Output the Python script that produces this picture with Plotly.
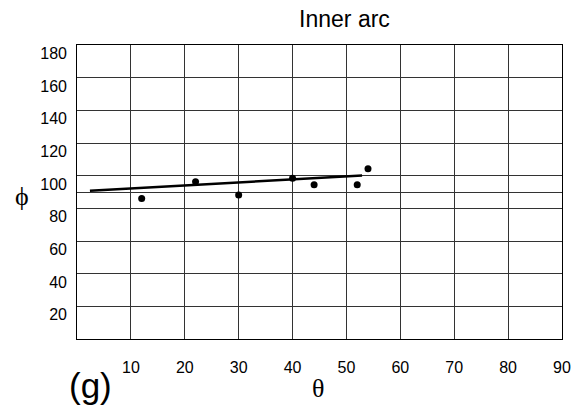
import plotly.graph_objects as go

# Data
theta_pts = [12, 22, 30, 40, 44, 52, 54]
phi_pts = [86.0, 96.2, 88.2, 98.4, 94.4, 94.4, 104.2]
fit_theta = [2.4, 52.9]
fit_phi = [90.7, 100.1]

x_ticks = [10, 20, 30, 40, 50, 60, 70, 80, 90]
x_grid = [10, 20, 30, 40, 50, 60, 70, 80]
y_ticks = [20, 40, 60, 80, 100, 120, 140, 160, 180]
y_grid = [20, 40, 60, 80, 90, 100, 120, 140, 160]

W, H = 573, 409
L, R, T, B = 77, 11, 44.5, 70
PW, PH = W - L - R, H - T - B


def px(xp):
    return (xp - L) / PW


def py(yp):
    return (H - B - yp) / PH


fig = go.Figure()
fig.add_trace(go.Scatter(x=fit_theta, y=fit_phi, mode="lines",
                         line=dict(color="black", width=2.5), showlegend=False))
fig.add_trace(go.Scatter(x=theta_pts, y=phi_pts, mode="markers",
                         marker=dict(color="black", size=7), showlegend=False))
fig.add_trace(go.Scatter(x=[None], y=[None], yaxis="y2", showlegend=False))
fig.add_trace(go.Scatter(x=[None], y=[None], xaxis="x2", showlegend=False))

gridc = "#333333"
fig.update_layout(
    width=W, height=H,
    margin=dict(l=L, r=R, t=T, b=B, autoexpand=False),
    paper_bgcolor="white", plot_bgcolor="white",
    font=dict(family="Liberation Sans, Arial, sans-serif", color="black", size=16),
    title=dict(text="Inner arc", font=dict(size=23, color="black"),
               x=316 / W, xanchor="center", xref="paper",
               y=1 - 19 / H, yanchor="middle", yref="container"),
    xaxis=dict(range=[0, 90], tickvals=x_grid, showticklabels=False,
               showgrid=True, gridcolor=gridc, gridwidth=1, zeroline=False,
               showline=True, linecolor="black", linewidth=1.2, mirror=True,
               ticks="", automargin=False),
    xaxis2=dict(range=[0, 90], overlaying="x", anchor="y", side="bottom",
                tickvals=x_ticks, ticktext=[str(v) for v in x_ticks],
                showgrid=False, zeroline=False, showline=False,
                ticklabelstandoff=17, tickfont=dict(size=16), automargin=False),
    yaxis=dict(range=[0, 180], tickvals=y_grid, showticklabels=False,
               showgrid=True, gridcolor=gridc, gridwidth=1, zeroline=False,
               showline=True, linecolor="black", linewidth=1.2, mirror=True,
               ticks="", automargin=False),
    yaxis2=dict(range=[5.2, 185.2], overlaying="y", anchor="x", side="left",
                tickvals=y_ticks, ticktext=[str(v) for v in y_ticks],
                showgrid=False, zeroline=False, showline=False,
                ticklabelstandoff=9, tickfont=dict(size=16), automargin=False),
)

fig.add_annotation(text="\u03b8", xref="paper", yref="paper", x=px(318), y=py(389),
                   showarrow=False, xanchor="center", yanchor="middle",
                   font=dict(family="Liberation Serif, serif", size=26))
fig.add_annotation(text="\u03d5", xref="paper", yref="paper", x=px(21.7), y=py(196.7),
                   showarrow=False, xanchor="center", yanchor="middle",
                   font=dict(family="Liberation Serif, serif", size=26))
fig.add_annotation(text="(g)", xref="paper", yref="paper", x=px(90), y=py(386),
                   showarrow=False, xanchor="center", yanchor="middle",
                   font=dict(family="Liberation Sans, Arial, sans-serif", size=35))

fig.write_html("out.html")
